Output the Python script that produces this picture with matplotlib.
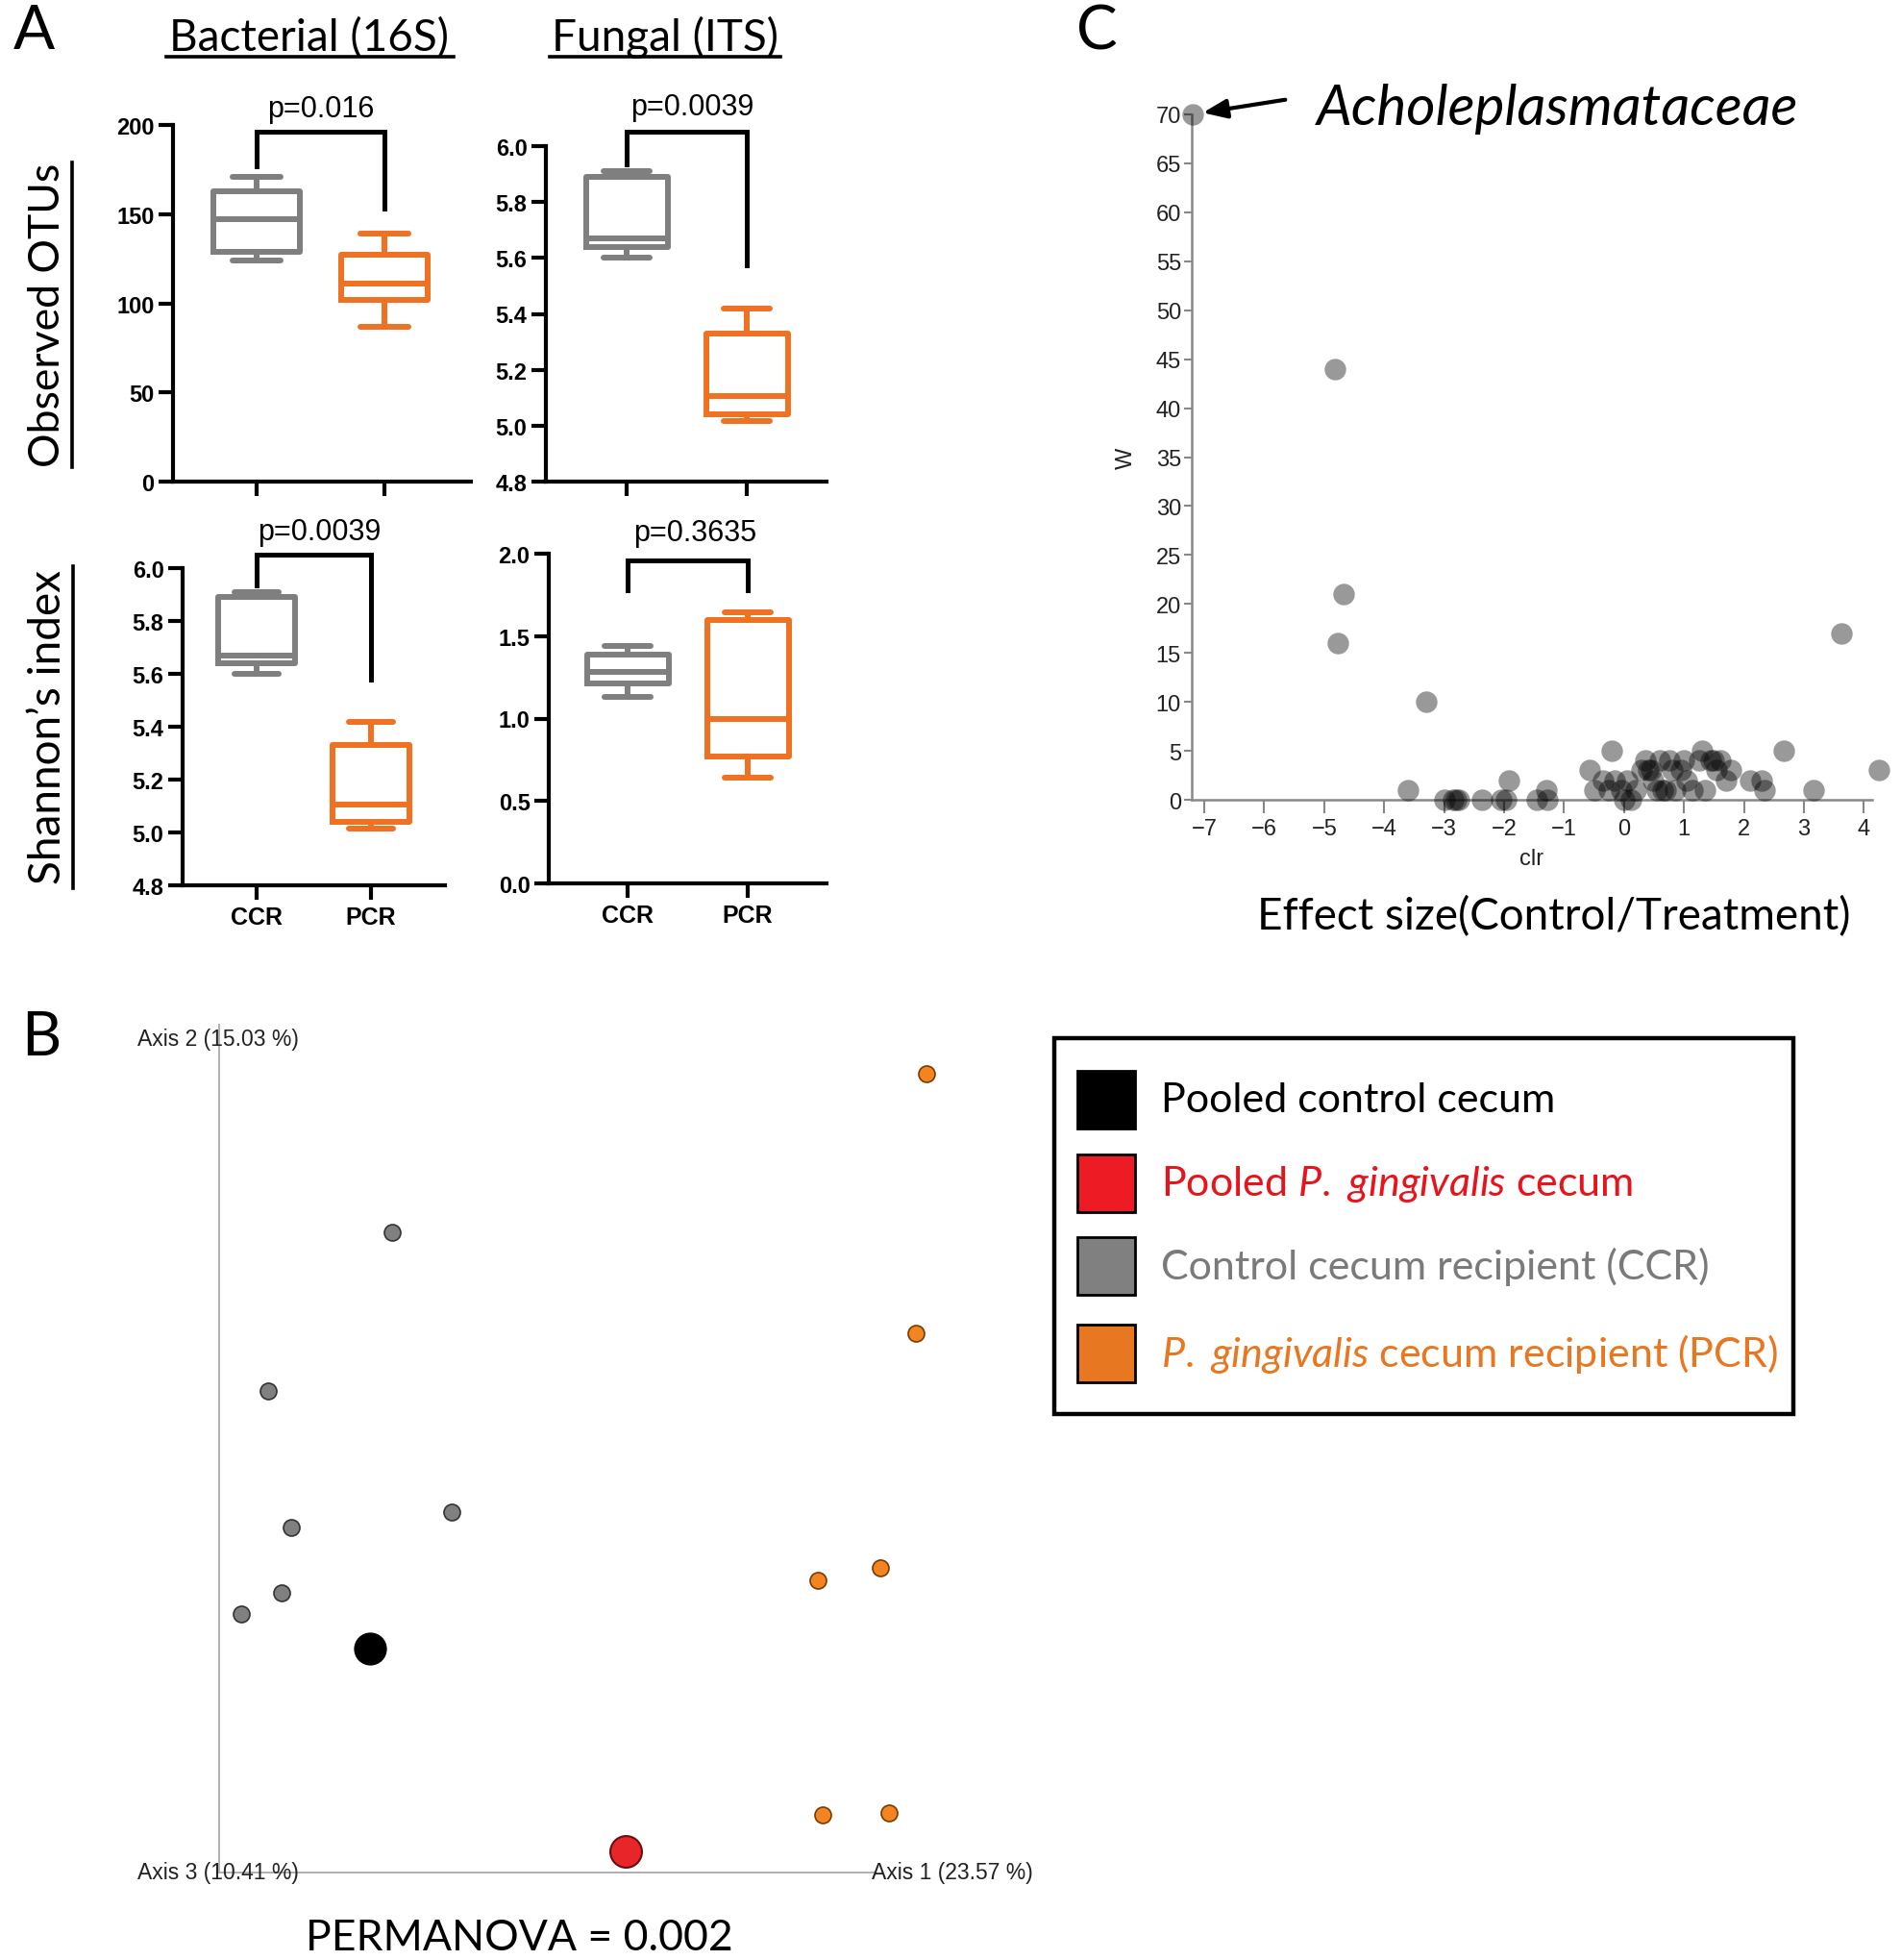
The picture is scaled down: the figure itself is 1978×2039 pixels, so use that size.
import matplotlib
matplotlib.use("Agg")
import matplotlib.pyplot as plt
from matplotlib.lines import Line2D
from matplotlib.patches import Rectangle

plt.rcParams['mathtext.fontset'] = 'custom'
plt.rcParams['mathtext.rm'] = 'Lato'
plt.rcParams['mathtext.it'] = 'Lato:italic'

# ---- panel A data: [whislo, q1, median, q3, whishi]
otus_16s_ccr = [124, 129, 147, 163, 171]
otus_16s_pcr = [87, 102, 111, 127, 139]
otus_its_ccr = [5.60, 5.64, 5.67, 5.89, 5.91]
otus_its_pcr = [5.016, 5.04, 5.105, 5.33, 5.42]
shannon_16s_ccr = [5.60, 5.64, 5.67, 5.89, 5.91]
shannon_16s_pcr = [5.016, 5.04, 5.105, 5.33, 5.42]
shannon_its_ccr = [1.13, 1.21, 1.28, 1.39, 1.44]
shannon_its_pcr = [0.64, 0.77, 1.00, 1.60, 1.645]
groups = ['CCR', 'PCR']
p_values = ['p=0.016', 'p=0.0039', 'p=0.0039', 'p=0.3635']

# ---- panel C data (effect size vs W)
clr = [-7.2, -4.82, -4.68, -4.77, -3.30, -3.61, 3.62, 2.67, 4.25, 3.17,
       -2.99, -2.85, -2.80, -2.75, -2.37, -2.05, -1.97, -1.92, -1.46, -1.30, -1.28,
       -0.58, -0.50, -0.20, -0.35, -0.25, -0.15, -0.05, 0.00, 0.05, 0.12,
       0.20, 0.30, 0.35, 0.40, 0.45, 0.48, 0.55, 0.60, 0.65, 0.70, 0.75,
       0.80, 0.85, 0.95, 1.00, 1.05, 1.15, 1.25, 1.30, 1.35, 1.45, 1.50,
       1.55, 1.60, 1.70, 1.78, 2.10, 2.30, 2.35]
w_stat = [70, 44, 21, 16, 10, 1, 17, 5, 3, 1,
          0, 0, 0, 0, 0, 0, 0, 2, 0, 1, 0,
          3, 1, 5, 2, 1, 2, 1, 0, 2, 0,
          1, 3, 4, 3, 3, 2, 1, 4, 1, 1, 4,
          3, 1, 3, 4, 2, 1, 4, 5, 1, 4, 4,
          3, 4, 2, 3, 2, 2, 1]

# ---- panel B data (PCoA scores)
ccr_ax1 = [0.138, 0.039, 0.186, 0.058, 0.050, 0.018]
ccr_ax2 = [0.512, 0.385, 0.288, 0.276, 0.224, 0.207]
pcr_ax1 = [0.566, 0.557, 0.529, 0.479, 0.536, 0.483]
pcr_ax2 = [0.639, 0.431, 0.244, 0.234, 0.048, 0.046]
pooled_ctrl = [0.121, 0.179]
pooled_pg = [0.325, 0.017]
legend_labels = ['Pooled control cecum',
                 r'Pooled $\it{P.}$ $\it{gingivalis}$ cecum',
                 'Control cecum recipient (CCR)',
                 r'$\it{P.}$ $\it{gingivalis}$ cecum recipient (PCR)']
legend_colors = ['#000000', '#ED1C24', '#808080', '#E87722']
legend_text_colors = ['#000000', '#E8141C', '#7a7a7a', '#E87722']

GREY = '#7f7f7f'
ORANGE = '#EF7122'
W, H = 1978, 2040


def box(x0, y0, x1, y1):
    return [x0 / W, 1 - y1 / H, (x1 - x0) / W, (y1 - y0) / H]


def ftext(x, y, s, **kw):
    fig.text(x / W, 1 - y / H, s, **kw)


def fline(xs, ys, **kw):
    fig.add_artist(Line2D([x / W for x in xs], [1 - y / H for y in ys],
                          transform=fig.transFigure, **kw))


def to_stats(v):
    return dict(whislo=v[0], q1=v[1], med=v[2], q3=v[3], whishi=v[4])


def prism_box(ax, ccr, pcr, ylim, yticks, fmt, xlim, p, bracket, show_x):
    for pos, vals, col in [(0, ccr, GREY), (1, pcr, ORANGE)]:
        lp = dict(color=col, linewidth=4.3)
        ax.bxp([to_stats(vals)], positions=[pos], widths=0.68, capwidths=0.38,
               showfliers=False, boxprops=lp, whiskerprops=lp,
               capprops=dict(color=col, linewidth=4.3, solid_capstyle='round'),
               medianprops=dict(color=col, linewidth=4.3))
    top, l_end, r_end, p_y, p_x = bracket
    ax.plot([0, 0, 1, 1], [l_end, top, top, r_end], color='black', lw=3.6,
            clip_on=False, solid_joinstyle='miter')
    ax.text(p_x, p_y, p, ha='center', va='baseline', fontsize=22,
            family='Liberation Sans')
    ax.set_xlim(*xlim)
    ax.set_ylim(*ylim)
    ax.set_yticks(yticks)
    ax.set_yticklabels([fmt.format(t) for t in yticks], fontsize=17,
                       fontweight='bold', family='Liberation Sans')
    ax.set_xticks([0, 1])
    ax.set_xticklabels(groups if show_x else ['', ''], fontsize=18,
                       fontweight='bold', family='Liberation Sans')
    for s in ['top', 'right']:
        ax.spines[s].set_visible(False)
    for s in ['left', 'bottom']:
        ax.spines[s].set_linewidth(3)
    ax.tick_params(width=3, length=11, pad=3)
    ax.tick_params(axis='x', pad=4)
    ax.set_facecolor('none')


fig = plt.figure(figsize=(W / 100, H / 100), dpi=100)

# ---- panel A
ax1 = fig.add_axes(box(180, 131, 490, 502))
prism_box(ax1, otus_16s_ccr, otus_16s_pcr, (0, 200), [0, 50, 100, 150, 200],
          '{:.0f}', (-0.654, 1.677), p_values[0], (196, 177, 153, 205, 0.5), False)
ax2 = fig.add_axes(box(568, 153, 860, 502))
prism_box(ax2, otus_its_ccr, otus_its_pcr, (4.8, 6.0), [4.8, 5.0, 5.2, 5.4, 5.6, 5.8, 6.0],
          '{:.1f}', (-0.672, 1.664), p_values[1], (6.05, 5.935, 5.575, 6.113, 0.55), False)
ax3 = fig.add_axes(box(190, 592, 463, 922))
prism_box(ax3, shannon_16s_ccr, shannon_16s_pcr, (4.8, 6.0), [4.8, 5.0, 5.2, 5.4, 5.6, 5.8, 6.0],
          '{:.1f}', (-0.647, 1.647), p_values[2], (6.05, 5.935, 5.58, 6.109, 0.55), True)
ax4 = fig.add_axes(box(571, 577, 860, 920))
prism_box(ax4, shannon_its_ccr, shannon_its_pcr, (0, 2.0), [0, 0.5, 1.0, 1.5, 2.0],
          '{:.1f}', (-0.656, 1.656), p_values[3], (1.96, 1.78, 1.78, 2.08, 0.56), True)

title_font = 'Lato'
ftext(322, 53, 'Bacterial (16S)', ha='center', va='baseline', fontsize=33, family=title_font)
fline([173, 472], [60, 60], color='black', lw=2.6)
ftext(692, 53, 'Fungal (ITS)', ha='center', va='baseline', fontsize=33, family=title_font)
fline([572, 812], [60, 60], color='black', lw=2.6)
ftext(50, 328, 'Observed OTUs', ha='center', va='center', rotation=90, fontsize=32, family=title_font)
fline([75, 75], [170, 487], color='black', lw=2.6)
ftext(50, 757, 'Shannon\u2019s index', ha='center', va='center', rotation=90, fontsize=33, family=title_font)
fline([76, 76], [590, 925], color='black', lw=2.6)

ftext(35, 33, 'A', ha='center', va='center', fontsize=46, family=title_font)
ftext(1141, 33, 'C', ha='center', va='center', fontsize=46, family=title_font)
ftext(43, 1080, 'B', ha='center', va='center', fontsize=46, family=title_font)

# ---- panel C
axc = fig.add_axes(box(1240, 120, 1948, 833))
axc.scatter(clr, w_stat, s=260, color='black', alpha=0.4, linewidths=0, clip_on=False, zorder=3)
axc.set_xlim(-7.21, 4.14)
axc.set_ylim(0, 70)
axc.set_xticks(range(-7, 5))
axc.set_yticks(range(0, 71, 5))
narrow = ['Liberation Sans Narrow', 'Liberation Sans']
for lab in axc.get_xticklabels() + axc.get_yticklabels():
    lab.set_family(narrow)
    lab.set_fontsize(17)
    lab.set_color('#222222')
for s in ['top', 'right']:
    axc.spines[s].set_visible(False)
for s in ['left', 'bottom']:
    axc.spines[s].set_color('#888888')
    axc.spines[s].set_linewidth(1.8)
axc.tick_params(axis='y', color='#888888', width=1.5, length=6, pad=2)
axc.tick_params(axis='x', color='#888888', width=1.5, length=10, pad=4)
axc.set_xlabel('clr', fontsize=17, family=narrow, color='#222222', labelpad=6)
axc.set_ylabel('W', fontsize=17, family=narrow, color='#222222', labelpad=14)
axc.set_facecolor('none')
axc.annotate('', xy=(-7.2, 70), xytext=(-5.65, 71.5),
             arrowprops=dict(arrowstyle='-|>,head_length=1.5,head_width=0.6',
                             color='black', lw=3.0, shrinkA=0, shrinkB=8),
             annotation_clip=False)
ftext(1370, 113, 'Acholeplasmataceae', ha='left', va='center', fontsize=42,
      style='italic', family=title_font)
ftext(1617, 954, 'Effect size(Control/Treatment)', ha='center', va='center',
      fontsize=33, family=title_font)

# ---- panel B
axb = fig.add_axes(box(228, 1067, 911, 1949))
axb.set_xlim(0, 0.525)
axb.set_ylim(0, 0.678)
axb.scatter(ccr_ax1, ccr_ax2, s=150, color='#808080', edgecolors='#333333',
            linewidths=1.2, clip_on=False, zorder=3)
axb.scatter(pcr_ax1, pcr_ax2, s=150, color='#F28522', edgecolors='#7a3a00',
            linewidths=1.2, clip_on=False, zorder=3)
axb.scatter([pooled_ctrl[0]], [pooled_ctrl[1]], s=560, color='black',
            edgecolors='black', clip_on=False, zorder=3)
axb.scatter([pooled_pg[0]], [pooled_pg[1]], s=560, color='#E8262A',
            edgecolors='#6b0d0d', linewidths=1.5, clip_on=False, zorder=3)
axb.set_xticks([])
axb.set_yticks([])
for s in ['top', 'right']:
    axb.spines[s].set_visible(False)
for s in ['left', 'bottom']:
    axb.spines[s].set_color('#aaaaaa')
    axb.spines[s].set_linewidth(1.3)
axb.set_facecolor('none')
axb.text(-0.065, 0.667, 'Axis 2 (15.03 %)', ha='left', va='center', fontsize=16.5,
         family=narrow, color='#222222')
axb.text(-0.065, 0.0, 'Axis 3 (10.41 %)', ha='left', va='center', fontsize=16.5,
         family=narrow, color='#222222')
axb.text(0.522, 0.0, 'Axis 1 (23.57 %)', ha='left', va='center', fontsize=16.5,
         family=narrow, color='#222222', clip_on=False)
ftext(540, 2017, 'PERMANOVA = 0.002', ha='center', va='center', fontsize=32, family=title_font)

# legend box
axl = fig.add_axes(box(1097, 1081, 1866, 1472))
axl.set_xlim(0, 769)
axl.set_ylim(391, 0)
axl.axis('off')
axl.add_patch(Rectangle((0, 0), 769, 391, fill=False, edgecolor='black', lw=3.2, clip_on=False))
item_y = [64, 151, 237, 328]
for yy, lab, col, tcol in zip(item_y, legend_labels, legend_colors, legend_text_colors):
    axl.add_patch(Rectangle((24, yy - 30), 60, 60, facecolor=col, edgecolor='black', lw=2))
    axl.text(111, yy, lab, ha='left', va='center', fontsize=31, color=tcol, family=title_font)

fig.savefig('out.png', dpi=100)
